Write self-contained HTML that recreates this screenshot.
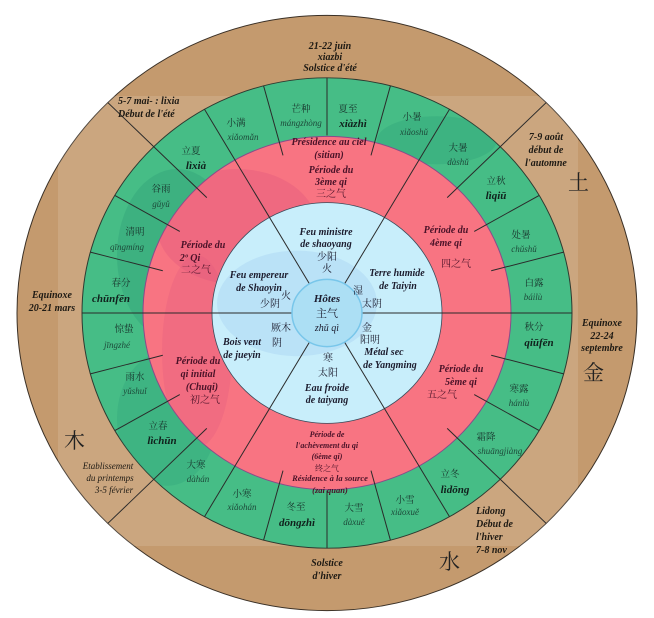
<!DOCTYPE html>
<html><head><meta charset="utf-8"><style>
html,body{margin:0;padding:0;background:#fff;}
svg{display:block;}
text{font-family:"Liberation Serif","Noto Serif CJK SC",serif;font-style:italic;font-weight:bold;text-anchor:middle;}
.c{font-family:"Liberation Serif","Noto Serif CJK SC","Noto Sans CJK SC",serif;font-style:normal;font-weight:normal;}
.br{fill:#1e1a14;font-size:10px;}
.g{fill:#17302a;font-size:9.5px;}
.gp{fill:#1d4a3a;font-size:9px;font-weight:normal;}
.gb{fill:#10201c;font-size:11px;}
.r{fill:#4a1228;font-size:10px;}
.b{fill:#1c1c2e;font-size:10px;}
</style></head><body>
<svg width="654" height="618" viewBox="0 0 654 618" xmlns="http://www.w3.org/2000/svg">
<defs>
  <clipPath id="cg"><circle r="245"/></clipPath>
  <clipPath id="cr"><circle r="184"/></clipPath>
  <clipPath id="cb"><circle r="115"/></clipPath>
</defs>
<g transform="translate(327,313) scale(1,0.96)">
  <circle r="310" fill="#c49a6e" stroke="#3a3026" stroke-width="1"/>
</g>
<rect x="58" y="96" width="520" height="450" fill="#fff" opacity="0.12"/>
<g transform="translate(327,313) scale(1,0.96)">
  <circle r="245" fill="#46bd86" stroke="#2d3a30" stroke-width="1"/>
  <g clip-path="url(#cg)">
    <ellipse cx="-150" cy="-60" rx="60" ry="90" fill="#2fa079" opacity="0.4"/>
    <ellipse cx="-160" cy="110" rx="50" ry="70" fill="#2fa079" opacity="0.3"/>
    <ellipse cx="110" cy="-180" rx="60" ry="25" fill="#2fa079" opacity="0.35"/>
  </g>
  <circle r="184" fill="#f87482" stroke="#8a4a8a" stroke-width="1"/>
  <g clip-path="url(#cr)">
    <ellipse cx="-90" cy="-90" rx="80" ry="60" fill="#d8507e" opacity="0.28"/>
    <ellipse cx="-130" cy="40" rx="35" ry="100" fill="#d8507e" opacity="0.2"/>
  </g>
  <circle r="115" fill="#c8eefb" stroke="#3a4a5a" stroke-width="0.8"/>
  <g clip-path="url(#cb)">
    <ellipse cx="-30" cy="-10" rx="80" ry="55" fill="#9cc8ee" opacity="0.3"/>
  </g>
  <g stroke="#2a2a2a" stroke-width="1" fill="none">
    <line x1="-245" y1="0" x2="245" y2="0"/>
    <line x1="170" y1="0" x2="245" y2="0" transform="rotate(-15)"/>
    <line x1="170" y1="0" x2="245" y2="0" transform="rotate(-30)"/>
    <line x1="170" y1="0" x2="245" y2="0" transform="rotate(-75)"/>
    <line x1="185" y1="0" x2="245" y2="0" transform="rotate(-90)"/>
    <line x1="170" y1="0" x2="245" y2="0" transform="rotate(-105)"/>
    <line x1="170" y1="0" x2="245" y2="0" transform="rotate(-150)"/>
    <line x1="170" y1="0" x2="245" y2="0" transform="rotate(-165)"/>
    <line x1="170" y1="0" x2="245" y2="0" transform="rotate(-195)"/>
    <line x1="170" y1="0" x2="245" y2="0" transform="rotate(-210)"/>
    <line x1="170" y1="0" x2="245" y2="0" transform="rotate(-255)"/>
    <line x1="185" y1="0" x2="245" y2="0" transform="rotate(-270)"/>
    <line x1="170" y1="0" x2="245" y2="0" transform="rotate(-285)"/>
    <line x1="170" y1="0" x2="245" y2="0" transform="rotate(-330)"/>
    <line x1="170" y1="0" x2="245" y2="0" transform="rotate(-345)"/>
    <line x1="34" y1="0" x2="245" y2="0" transform="rotate(-60)"/>
    <line x1="34" y1="0" x2="245" y2="0" transform="rotate(-120)"/>
    <line x1="34" y1="0" x2="245" y2="0" transform="rotate(-240)"/>
    <line x1="34" y1="0" x2="245" y2="0" transform="rotate(-300)"/>
    <line x1="170" y1="0" x2="310" y2="0" transform="rotate(-45)"/>
    <line x1="170" y1="0" x2="310" y2="0" transform="rotate(-135)"/>
    <line x1="170" y1="0" x2="310" y2="0" transform="rotate(-225)"/>
    <line x1="170" y1="0" x2="310" y2="0" transform="rotate(-315)"/>
  </g>
  <circle r="35" fill="#acdff4" stroke="#78c6ea" stroke-width="1.5"/>
</g>

<!-- brown labels -->
<text class="br" x="330" y="49">21-22 juin</text>
<text class="br" x="330" y="60">xiazbi</text>
<text class="br" x="330" y="71">Solstice d'été</text>
<text class="br" x="118" y="104" style="text-anchor:start">5-7 mai- : lixia</text>
<text class="br" x="118" y="117" style="text-anchor:start">Début de l'été</text>
<text class="br" x="546" y="140">7-9 août</text>
<text class="br" x="546" y="153">début de</text>
<text class="br" x="546" y="166">l'automne</text>
<text class="c" x="568" y="190" style="font-size:21px;fill:#222;text-anchor:start">土</text>
<text class="br" x="52" y="298">Equinoxe</text>
<text class="br" x="52" y="311">20-21 mars</text>
<text class="br" x="602" y="326">Equinoxe</text>
<text class="br" x="602" y="339">22-24</text>
<text class="br" x="602" y="351">septembre</text>
<text class="c" x="583" y="380" style="font-size:21px;fill:#222;text-anchor:start">金</text>
<text class="c" x="64" y="448" style="font-size:21px;fill:#222;text-anchor:start">木</text>
<text class="br" x="108" y="469" style="font-weight:normal;font-size:9px">Etablissement</text>
<text class="br" x="110" y="481" style="font-weight:normal;font-size:9px">du printemps</text>
<text class="br" x="114" y="493" style="font-weight:normal;font-size:9px">3-5 février</text>
<text class="br" x="476" y="514" style="text-anchor:start">Lidong</text>
<text class="br" x="476" y="527" style="text-anchor:start">Début de</text>
<text class="br" x="476" y="540" style="text-anchor:start">l'hiver</text>
<text class="br" x="476" y="553" style="text-anchor:start">7-8 nov</text>
<text class="c" x="439" y="569" style="font-size:21px;fill:#222;text-anchor:start">水</text>
<text class="br" x="327" y="566">Solstice</text>
<text class="br" x="327" y="579">d'hiver</text>

<!-- green labels -->
<text class="c g" x="301" y="112">芒种</text><text class="gp" x="301" y="126">mángzhòng</text>
<text class="c g" x="348" y="112">夏至</text><text class="gb" x="353" y="127">xiàzhì</text>
<text class="c g" x="236" y="126">小满</text><text class="gp" x="243" y="140">xiǎomǎn</text>
<text class="c g" x="412" y="120">小暑</text><text class="gp" x="414" y="135">xiǎoshǔ</text>
<text class="c g" x="191" y="154">立夏</text><text class="gb" x="196" y="169">lìxià</text>
<text class="c g" x="458" y="151">大暑</text><text class="gp" x="458" y="165">dàshǔ</text>
<text class="c g" x="161" y="192">谷雨</text><text class="gp" x="161" y="207">gǔyǔ</text>
<text class="c g" x="496" y="184">立秋</text><text class="gb" x="496" y="199">lìqiū</text>
<text class="c g" x="135" y="235">清明</text><text class="gp" x="127" y="250">qīngmíng</text>
<text class="c g" x="521" y="238">处暑</text><text class="gp" x="524" y="252">chǔshǔ</text>
<text class="c g" x="121" y="286">春分</text><text class="gb" x="111" y="302">chūnfēn</text>
<text class="c g" x="534" y="286">白露</text><text class="gp" x="533" y="300">báilù</text>
<text class="c g" x="124" y="332">惊蛰</text><text class="gp" x="117" y="348">jīngzhé</text>
<text class="c g" x="534" y="330">秋分</text><text class="gb" x="539" y="346">qiūfēn</text>
<text class="c g" x="135" y="380">雨水</text><text class="gp" x="135" y="394">yǔshuǐ</text>
<text class="c g" x="519" y="392">寒露</text><text class="gp" x="519" y="406">hánlù</text>
<text class="c g" x="158" y="429">立春</text><text class="gb" x="162" y="444">lìchūn</text>
<text class="c g" x="486" y="440">霜降</text><text class="gp" x="500" y="454">shuāngjiàng</text>
<text class="c g" x="196" y="468">大寒</text><text class="gp" x="198" y="482">dàhán</text>
<text class="c g" x="450" y="477">立冬</text><text class="gb" x="455" y="493">lìdōng</text>
<text class="c g" x="242" y="497">小寒</text><text class="gp" x="242" y="510">xiǎohán</text>
<text class="c g" x="296" y="510">冬至</text><text class="gb" x="297" y="526">dōngzhì</text>
<text class="c g" x="354" y="511">大雪</text><text class="gp" x="354" y="525">dàxuě</text>
<text class="c g" x="405" y="503">小雪</text><text class="gp" x="405" y="515">xiǎoxuě</text>

<!-- red labels -->
<text class="r" x="329" y="145">Présidence au ciel</text>
<text class="r" x="329" y="158">(sitian)</text>
<text class="r" x="331" y="173">Période du</text>
<text class="r" x="331" y="185">3ème qi</text>
<text class="c r" x="331" y="197">三之气</text>
<text class="r" x="203" y="248">Période du</text>
<text class="r" x="190" y="261">2º Qi</text>
<text class="c r" x="196" y="273">二之气</text>
<text class="r" x="446" y="233">Période du</text>
<text class="r" x="446" y="246">4ème qi</text>
<text class="c r" x="456" y="267">四之气</text>
<text class="r" x="198" y="364">Période du</text>
<text class="r" x="198" y="377">qi initial</text>
<text class="r" x="202" y="390">(Chuqi)</text>
<text class="c r" x="205" y="403">初之气</text>
<text class="r" x="461" y="372">Période du</text>
<text class="r" x="461" y="385">5ème qi</text>
<text class="c r" x="442" y="398">五之气</text>
<text class="r" x="327" y="437" style="font-size:8px">Période de</text>
<text class="r" x="327" y="448" style="font-size:8px">l'achèvement du qi</text>
<text class="r" x="327" y="459" style="font-size:8px">(6ème qi)</text>
<text class="c r" x="327" y="471" style="font-size:8px">终之气</text>
<text class="r" x="330" y="481" style="font-size:8.5px">Résidence à la source</text>
<text class="r" x="330" y="493" style="font-size:8.5px">(zai quan)</text>

<!-- blue labels -->
<text class="b" x="326" y="235">Feu ministre</text>
<text class="b" x="326" y="247">de shaoyang</text>
<text class="c b" x="327" y="260">少阳</text>
<text class="c b" x="327" y="272">火</text>
<text class="b" x="259" y="278">Feu empereur</text>
<text class="b" x="259" y="291">de Shaoyin</text>
<text class="c b" x="270" y="307">少阴</text>
<text class="c b" x="286" y="299">火</text>
<text class="b" x="397" y="276">Terre humide</text>
<text class="b" x="398" y="289">de Taiyin</text>
<text class="c b" x="358" y="294">湿</text>
<text class="c b" x="372" y="307">太阴</text>
<text class="b" x="327" y="302" style="font-size:11px">Hôtes</text>
<text class="c b" x="327" y="317" style="font-size:11px">主气</text>
<text class="b" x="327" y="331" style="font-weight:normal">zhǔ qì</text>
<text class="c b" x="281" y="331">厥木</text>
<text class="c b" x="277" y="346">阴</text>
<text class="b" x="242" y="345">Bois vent</text>
<text class="b" x="242" y="358">de jueyin</text>
<text class="c b" x="367" y="331">金</text>
<text class="c b" x="370" y="343">阳明</text>
<text class="b" x="384" y="355">Métal sec</text>
<text class="b" x="390" y="368">de Yangming</text>
<text class="c b" x="328" y="361">寒</text>
<text class="c b" x="328" y="376">太阳</text>
<text class="b" x="327" y="391">Eau froide</text>
<text class="b" x="327" y="403">de taiyang</text>
</svg>
</body></html>
